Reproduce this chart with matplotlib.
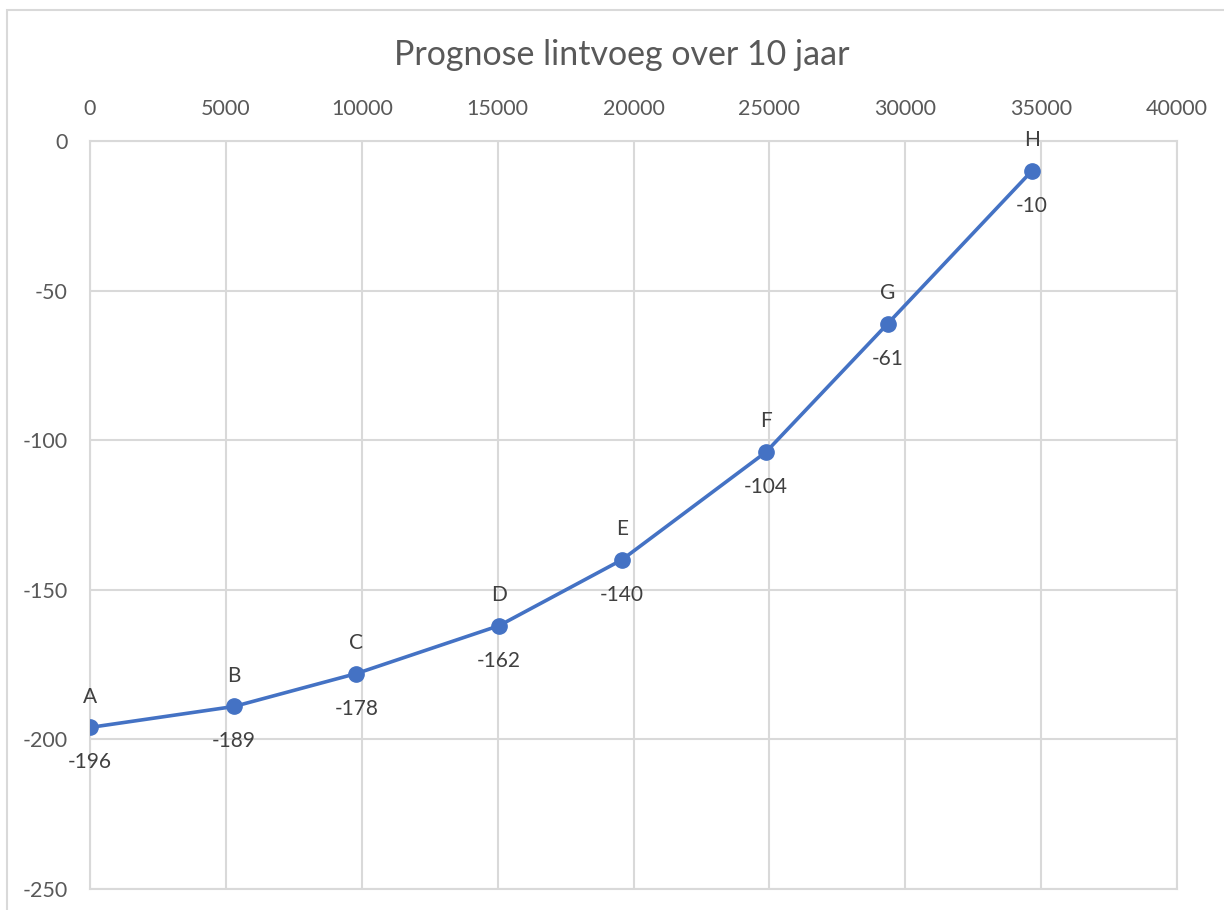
import matplotlib.pyplot as plt
from matplotlib.patches import Rectangle

# lintvoeg prognose per meetpunt
punten = ['A', 'B', 'C', 'D', 'E', 'F', 'G', 'H']
afstand = [0, 5300, 9800, 15050, 19570, 24870, 29360, 34660]
zakking = [-196, -189, -178, -162, -140, -104, -61, -10]

plt.rcParams['font.family'] = ['Lato', 'DejaVu Sans']
plt.rcParams['axes.unicode_minus'] = False

fig = plt.figure(figsize=(12.24, 9.10), dpi=100)
fig.patches.append(Rectangle((7/1224, -0.1), 1.2, 1.1 - 10/910, transform=fig.transFigure,
                             fill=False, edgecolor='#d9d9d9', linewidth=1.5))

ax = fig.add_axes([90/1224, 21/910, 1087/1224, 748/910])
ax.plot(afstand, zakking, color='#4472C4', linewidth=2.6, marker='o', markersize=11, zorder=3)

for p, x, y in zip(punten, afstand, zakking):
    ax.annotate(p, (x, y), xytext=(0, 15), textcoords='offset points', ha='center', va='bottom',
                fontsize=15, color='#404040')
    ax.annotate(str(y), (x, y), xytext=(0, -18), textcoords='offset points', ha='center', va='top',
                fontsize=15, color='#404040')

ax.set_xlim(0, 40000)
ax.set_ylim(-250, 0)
ax.set_xticks(range(0, 40001, 5000))
ax.set_yticks(range(-250, 1, 50))
ax.xaxis.tick_top()
ax.tick_params(length=0, labelsize=15.5, labelcolor='#595959')
ax.tick_params(axis='y', pad=16)
ax.tick_params(axis='x', pad=16)
ax.grid(True, color='#d9d9d9', linewidth=1.5)
for s in ax.spines.values():
    s.set_color('#d9d9d9')
    s.set_linewidth(1.5)
ax.set_axisbelow(True)

fig.text(622/1224, 1 - 55/910, 'Prognose lintvoeg over 10 jaar', ha='center', va='center',
         fontsize=24.5, color='#595959')

fig.savefig('out.png', dpi=100)
